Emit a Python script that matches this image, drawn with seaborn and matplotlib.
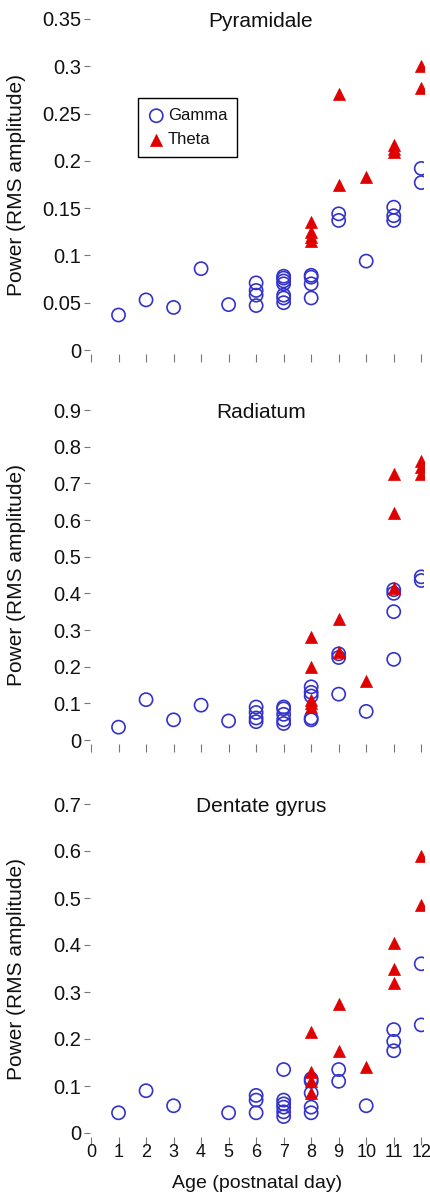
import matplotlib
matplotlib.use("Agg")
import matplotlib.pyplot as plt
import numpy as np
import pandas as pd
import seaborn as sns

# ---- data ----
ages = list(range(0, 13))

pyr_gamma_x = [1, 2, 3, 4, 5, 6, 6, 6, 6, 7, 7, 7, 7, 7, 7, 7, 8, 8, 8, 8, 9, 9, 10, 11, 11, 11, 12, 12]
pyr_gamma_y = [0.037, 0.053, 0.045, 0.086, 0.048, 0.047, 0.058, 0.063, 0.071,
               0.050, 0.055, 0.058, 0.070, 0.073, 0.076, 0.078,
               0.055, 0.070, 0.077, 0.079, 0.137, 0.144, 0.094,
               0.137, 0.142, 0.151, 0.177, 0.192]
pyr_theta_x = [8, 8, 8, 8, 9, 9, 10, 11, 11, 11, 12, 12]
pyr_theta_y = [0.115, 0.120, 0.125, 0.135, 0.175, 0.271, 0.183, 0.209, 0.213, 0.217, 0.277, 0.300]

rad_gamma_x = [1, 2, 3, 4, 5, 6, 6, 6, 6, 7, 7, 7, 7, 7, 8, 8, 8, 8, 8, 9, 9, 9, 10, 11, 11, 11, 11, 12, 12]
rad_gamma_y = [0.035, 0.110, 0.055, 0.095, 0.052, 0.050, 0.060, 0.075, 0.090,
               0.045, 0.055, 0.070, 0.085, 0.090,
               0.055, 0.060, 0.120, 0.130, 0.145, 0.125, 0.225, 0.235, 0.078,
               0.220, 0.350, 0.400, 0.410, 0.435, 0.445]
rad_theta_x = [8, 8, 8, 8, 8, 9, 9, 10, 11, 11, 11, 12, 12, 12]
rad_theta_y = [0.090, 0.100, 0.110, 0.200, 0.280, 0.240, 0.330, 0.160,
               0.415, 0.620, 0.725, 0.725, 0.745, 0.760]

dg_gamma_x = [1, 2, 3, 5, 6, 6, 6, 7, 7, 7, 7, 7, 7, 8, 8, 8, 8, 8, 9, 9, 10, 11, 11, 11, 12, 12]
dg_gamma_y = [0.043, 0.090, 0.058, 0.043, 0.043, 0.070, 0.080,
              0.035, 0.045, 0.055, 0.062, 0.070, 0.135,
              0.043, 0.055, 0.085, 0.110, 0.115, 0.110, 0.135, 0.058,
              0.175, 0.195, 0.220, 0.230, 0.360]
dg_theta_x = [8, 8, 8, 8, 9, 9, 10, 11, 11, 11, 12, 12]
dg_theta_y = [0.085, 0.110, 0.130, 0.215, 0.175, 0.275, 0.140, 0.320, 0.350, 0.405, 0.485, 0.590]

titles = ["Pyramidale", "Radiatum", "Dentate gyrus"]
y_max = [0.35, 0.9, 0.7]
pyr_yticks = [0, 0.05, 0.1, 0.15, 0.2, 0.25, 0.3, 0.35]
pyr_ylabels = ["0", "0.05", "0.1", "0.15", "0.2", "0.25", "0.3", "0.35"]
rad_yticks = [0, 0.1, 0.2, 0.3, 0.4, 0.5, 0.6, 0.7, 0.8, 0.9]
rad_ylabels = ["0", "0.1", "0.2", "0.3", "0.4", "0.5", "0.6", "0.7", "0.8", "0.9"]
dg_yticks = [0, 0.1, 0.2, 0.3, 0.4, 0.5, 0.6, 0.7]
dg_ylabels = ["0", "0.1", "0.2", "0.3", "0.4", "0.5", "0.6", "0.7"]

panels = [
    (pyr_gamma_x, pyr_gamma_y, pyr_theta_x, pyr_theta_y, pyr_yticks, pyr_ylabels),
    (rad_gamma_x, rad_gamma_y, rad_theta_x, rad_theta_y, rad_yticks, rad_ylabels),
    (dg_gamma_x, dg_gamma_y, dg_theta_x, dg_theta_y, dg_yticks, dg_ylabels),
]

sns.set_style("white")
plt.rcParams["font.family"] = ["Liberation Sans", "DejaVu Sans"]
plt.rcParams["font.size"] = 14
plt.rcParams["text.color"] = "#111111"
plt.rcParams["axes.labelcolor"] = "#111111"
plt.rcParams["xtick.labelcolor"] = "#111111"
plt.rcParams["ytick.labelcolor"] = "#111111"

GAMMA_COL = "#3333cc"
THETA_COL = "#e00000"

fig = plt.figure(figsize=(4.31, 11.97), dpi=100)
W, H = 431.0, 1197.0
# (top px, bottom px) of each axes
boxes = [(19, 350), (410, 740), (804, 1133)]
left_px, right_px = 91, 424

for i, (gx, gy, tx, ty, yt, yl) in enumerate(panels):
    top, bot = boxes[i]
    ax = fig.add_axes([left_px / W, 1 - bot / H, (right_px - left_px) / W, (bot - top) / H])

    gdf = pd.DataFrame({"age": gx, "power": gy})
    tdf = pd.DataFrame({"age": tx, "power": ty})
    sns.scatterplot(data=gdf, x="age", y="power", ax=ax, marker="o", s=90,
                    facecolor="none", edgecolor=GAMMA_COL, linewidth=1.2,
                    label="Gamma", zorder=3)
    sns.scatterplot(data=tdf, x="age", y="power", ax=ax, marker="^", s=75,
                    color=THETA_COL, edgecolor=THETA_COL, linewidth=0.5,
                    label="Theta", zorder=4)

    ax.set_xlim(0, 12.1)
    ax.set_ylim(0, y_max[i])
    ax.set_xticks(ages)
    ax.set_yticks(yt)
    ax.set_yticklabels(yl)
    for sp in ax.spines.values():
        sp.set_visible(False)
    ax.spines["bottom"].set_position(("outward", 3))
    ax.spines["left"].set_position(("outward", 1))
    ax.tick_params(axis="both", direction="out", length=4, width=0.8,
                   color="#777777", labelsize=14.5, pad=2,
                   bottom=True, left=True)
    ax.tick_params(axis="x", length=6, pad=-1, labelsize=13)
    ax.set_ylabel("Power (RMS amplitude)", fontsize=15)
    ax.yaxis.set_label_coords(-0.195, 0.5)

    ax.text(0.51, 0.992, titles[i], transform=ax.transAxes, ha="center",
            va="center", fontsize=15)

    if i == 0:
        ax.legend(loc="upper left", bbox_to_anchor=(0.141, 0.761), frameon=True,
                  fancybox=False, edgecolor="black", framealpha=1,
                  borderaxespad=0, handletextpad=0.2, borderpad=0.6,
                  labelspacing=0.55, handlelength=1.0, fontsize=12)
        ax.get_legend().get_frame().set_linewidth(1.0)
    else:
        ax.get_legend().remove()

    if i == 2:
        ax.set_xlabel("Age (postnatal day)", fontsize=14, labelpad=10)
    else:
        ax.set_xticklabels([])
        ax.set_xlabel("")

fig.savefig("out.png", dpi=100)
